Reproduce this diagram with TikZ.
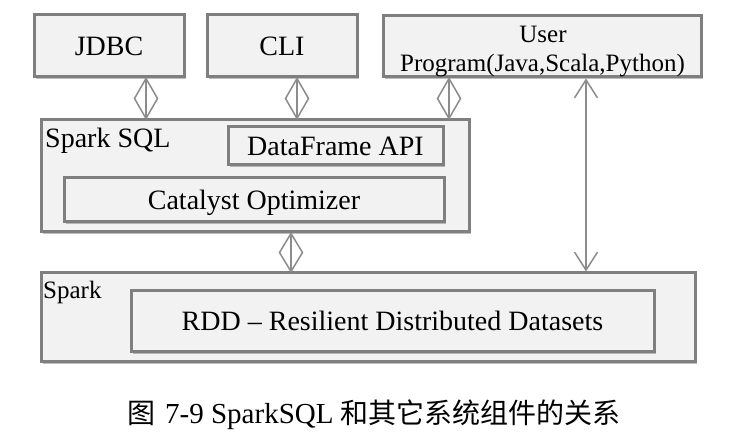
\documentclass[tikz,border=0pt]{standalone}
\usepackage{fontspec}
\setmainfont{Liberation Serif}
\newfontfamily\cjk{Noto Sans CJK SC}
\usetikzlibrary{calc,shadows,arrows.meta}
\definecolor{boxfill}{HTML}{F2F2F2}
\definecolor{boxline}{HTML}{7F7F7F}
\definecolor{conline}{HTML}{8C8C8C}
\newcommand\diacon[2]{%
  \draw[con] (#1) -- (#2);
  \draw[con] (#1) -- ($(#1)!.5!(#2)+(11.5,0)$) -- (#2) -- ($(#1)!.5!(#2)+(-11.5,0)$) -- cycle;}
\tikzset{
  box/.style={draw=boxline, line width=3pt, fill=boxfill, inner sep=0pt,
    text height=19pt, text depth=0pt, font=\fontsize{28}{33}\selectfont,
    drop shadow={shadow xshift=2pt, shadow yshift=-2pt, opacity=.25, fill=black}},
  lbl/.style={inner sep=0pt, anchor=base west},
  con/.style={draw=conline, line width=1.5pt, line join=miter},
  barb/.style={{Straight Barb[length=18pt,width=23pt]}-{Straight Barb[length=18pt,width=23pt]}}
}
\begin{document}
\begin{tikzpicture}[x=1pt,y=-1pt]
\useasboundingbox[fill=white] (0,0) rectangle (756,446);
% top row
\node[box, minimum width=150pt, minimum height=62pt] (jdbc) at (109,46) {JDBC};
\node[box, minimum width=150pt, minimum height=62pt] (cli) at (282,46) {CLI};
\node[box, minimum width=318pt, minimum height=61pt] (user) at (542,46.5) {};
\node[lbl, anchor=base, font=\fontsize{25}{30}\selectfont] (userA) at (543,43) {User};
\node[lbl, anchor=base, font=\fontsize{25}{30}\selectfont] (userB) at (542.5,72) {Program(Java,Scala,Python)};
% Spark SQL
\node[box, minimum width=428pt, minimum height=112pt] (sql) at (255,176) {};
\node[lbl, font=\fontsize{28}{33}\selectfont] (sqllbl) at (45,148) {Spark SQL};
\node[box, minimum width=215pt, minimum height=38pt] (df) at (335.5,146) {DataFrame API};
\node[box, minimum width=380pt, minimum height=44pt] (cat) at (254,200) {Catalyst Optimizer};
% Spark
\node[box, minimum width=654pt, minimum height=89pt] (spark) at (368,317.5) {};
\node[lbl, font=\fontsize{25}{30}\selectfont] (sparklbl) at (43,299) {Spark};
\node[box, minimum width=523pt, minimum height=61pt] (rdd) at (392.5,321.5) {RDD -- Resilient Distributed Datasets};
% connectors
\coordinate (j1) at (146,0 |- jdbc.south);
\coordinate (j2) at (146,0 |- sql.north);
\coordinate (c1) at (297,0 |- cli.south);
\coordinate (c2) at (297,0 |- sql.north);
\coordinate (u1) at (449,0 |- user.south);
\coordinate (u2) at (449,0 |- sql.north);
\coordinate (s1) at (291,0 |- sql.south);
\coordinate (s2) at (291,0 |- spark.north);
\diacon{j1}{j2}
\diacon{c1}{c2}
\diacon{u1}{u2}
\diacon{s1}{s2}
\draw[con, barb] (586,0 |- user.south) -- (586,0 |- spark.north);
% caption
\node[lbl, font=\fontsize{29}{33}\selectfont] (cap) at (127,424)
  {{\cjk\fontsize{28}{33}\selectfont 图}\hspace{10pt}7-9 SparkSQL {\cjk\fontsize{28}{33}\selectfont 和其它系统组件的关系}};
\end{tikzpicture}
\end{document}
